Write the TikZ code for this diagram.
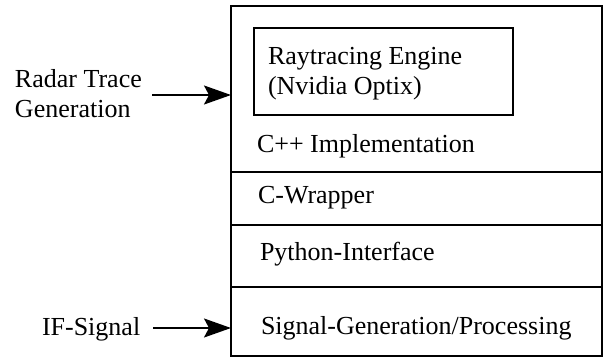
\documentclass[tikz,border=0pt]{standalone}
\usepackage{fontspec}
\setmainfont{Liberation Serif}
\usetikzlibrary{arrows.meta}
\begin{document}
\begin{tikzpicture}[x=1pt,y=-1pt,
  txt/.style={inner sep=0pt, outer sep=0pt, anchor=base west, font=\fontsize{26}{30}\selectfont, align=left},
  layer/.style={draw, line width=1.9pt, anchor=north west, minimum width=371pt, inner sep=0pt, outer sep=0pt},
  arr/.style={line width=1.8pt, -{Stealth[length=27pt,width=19pt,inset=5pt]}}]
\useasboundingbox (0,0) rectangle (606,359);
% layers
\node[layer, minimum height=166pt] (cpp) at (231,6) {};
\node[layer, minimum height=53pt] (cw) at (cpp.south west) {};
\node[layer, minimum height=62pt] (py) at (cw.south west) {};
\node[layer, minimum height=69pt] (sig) at (py.south west) {};
\node[layer, minimum width=259pt, minimum height=87pt] (rt) at (254,28) {};
% texts
\node[txt] (rtt) at (268,94) {Raytracing Engine\\(Nvidia Optix)};
\node[txt] (cppt) at (257,152) {C++ Implementation};
\node[txt] (cwt) at (258,203) {C-Wrapper};
\node[txt] (pyt) at (260,260) {Python-Interface};
\node[txt] (sigt) at (261,334) {Signal-Generation/Processing};
\node[txt] (radar) at (15,117) {Radar Trace\\Generation};
\node[txt] (ifs) at (42,335) {IF-Signal};
% arrows
\coordinate (a1) at (152,95);
\coordinate (a2) at (153,328);
\draw[arr] (a1) -- (a1 -| cpp.west);
\draw[arr] (a2) -- (a2 -| sig.west);
\end{tikzpicture}
\end{document}
